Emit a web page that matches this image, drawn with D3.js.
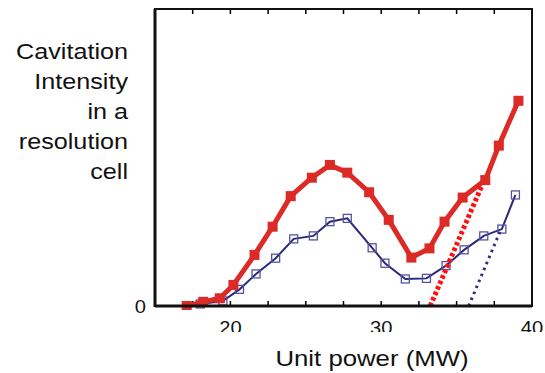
<!DOCTYPE html>
<html>
<head>
<meta charset="utf-8">
<script src="https://cdn.jsdelivr.net/npm/d3@7/dist/d3.min.js"></script>
<style>
  html, body { margin: 0; padding: 0; background: #fff; }
  svg { display: block; font-family: "Liberation Sans", Arial, sans-serif; }
</style>
</head>
<body>
<svg id="chart" width="545" height="373"></svg>
<script>
// Unit power (MW) at each measurement
const powerA = [17.1, 18.2, 19.3, 20.2, 21.6, 22.8, 24.0, 25.4, 26.6, 27.75, 29.2, 30.5, 32.0, 33.2, 34.2, 35.4, 36.9, 37.8, 39.1];
// Cavitation intensity, first series (thick red)
const intensityA = [0, 1.4, 2.6, 7.1, 17.2, 26.7, 37.0, 43.2, 47.5, 44.9, 38.3, 29.0, 16.3, 19.4, 28.4, 36.5, 42.4, 54.0, 69.1];

const powerB = [17.1, 18.0, 19.5, 20.6, 21.7, 23.0, 24.2, 25.5, 26.6, 27.75, 29.4, 30.25, 31.6, 33.0, 34.3, 35.5, 36.8, 38.0, 38.9];
// Cavitation intensity, second series (thin navy, open squares)
const intensityB = [0, 0.7, 1.7, 5.6, 10.8, 16.1, 22.6, 23.6, 28.4, 29.5, 19.6, 14.4, 9.1, 9.3, 13.6, 18.9, 23.6, 25.9, 37.4];

// Dotted trend lines (start and end points)
const trendA = [{ x: 33.25, y: 0 }, { x: 36.65, y: 40.2 }];
const trendB = [{ x: 35.8, y: 0 }, { x: 37.9, y: 25.3 }];

const xTicks = [17.5, 20, 22.5, 25, 27.5, 30, 32.5, 35, 37.5];
const xTickLabels = [20, 30, 40];
const yTickLabels = [0];
const yLabelLines = ["Cavitation", "Intensity", "in a", "resolution", "cell"];
const xLabel = "Unit power (MW)";

const svg = d3.select("#chart");
const pLeft = 155, pRight = 532, pTop = 9, pBottom = 306;
const x = d3.scaleLinear().domain([15, 40]).range([pLeft, pRight]);
const y = d3.scaleLinear().domain([0, 100]).range([pBottom, pTop]);
const sx = 1.12; // horizontal stretch of text

const defs = svg.append("defs");
// clip for the tick labels under the axis
defs.append("clipPath").attr("id", "tickclip")
  .append("rect").attr("x", 0).attr("y", 0).attr("width", 545).attr("height", 332);
defs.append("clipPath").attr("id", "plotclip")
  .append("rect").attr("x", pLeft).attr("y", pTop).attr("width", pRight - pLeft).attr("height", pBottom - pTop + 4);

// ticks along bottom (pointing up) and top (pointing down)
const tickLen = 5;
svg.append("g").selectAll("line").data(xTicks).join("line")
  .attr("x1", d => x(d)).attr("x2", d => x(d))
  .attr("y1", pBottom).attr("y2", pBottom - tickLen)
  .attr("stroke", "#000").attr("stroke-width", 1.5);
svg.append("g").selectAll("line").data(xTicks).join("line")
  .attr("x1", d => x(d)).attr("x2", d => x(d))
  .attr("y1", pTop).attr("y2", pTop + tickLen)
  .attr("stroke", "#000").attr("stroke-width", 1.5);

// data lines
const lineA = d3.line().x((d, i) => x(powerA[i])).y(d => y(d));
const lineB = d3.line().x((d, i) => x(powerB[i])).y(d => y(d));
const trendLine = d3.line().x(d => x(d.x)).y(d => y(d.y));

const g = svg.append("g").attr("clip-path", "url(#plotclip)");

g.append("path").datum(intensityB).attr("d", lineB)
  .attr("fill", "none").attr("stroke", "#2a2878").attr("stroke-width", 2);
g.append("g").selectAll("rect").data(intensityB).join("rect")
  .attr("x", (d, i) => x(powerB[i]) - 4).attr("y", d => y(d) - 4)
  .attr("width", 8).attr("height", 8)
  .attr("fill", "none").attr("stroke", "#5553a0").attr("stroke-width", 1.3);

g.append("path").datum(trendB).attr("d", trendLine)
  .attr("fill", "none").attr("stroke", "#2e2c86").attr("stroke-width", 3)
  .attr("stroke-dasharray", "2.5,4");

g.append("path").datum(intensityA).attr("d", lineA)
  .attr("fill", "none").attr("stroke", "#dc2a26").attr("stroke-width", 5)
  .attr("stroke-linejoin", "round");
g.append("g").selectAll("rect").data(intensityA).join("rect")
  .attr("x", (d, i) => x(powerA[i]) - 5).attr("y", d => y(d) - 5)
  .attr("width", 10).attr("height", 10)
  .attr("fill", "#dc2a26");

g.append("path").datum(trendA).attr("d", trendLine)
  .attr("fill", "none").attr("stroke", "#ff1010").attr("stroke-width", 5)
  .attr("stroke-dasharray", "3.5,2.5");

// frame
svg.append("rect").attr("x", pLeft).attr("y", pTop)
  .attr("width", pRight - pLeft).attr("height", pBottom - pTop)
  .attr("fill", "none").attr("stroke", "#111").attr("stroke-width", 2);
svg.append("line").attr("x1", pLeft).attr("x2", pLeft).attr("y1", pTop).attr("y2", pBottom + 1)
  .attr("stroke", "#111").attr("stroke-width", 3);
svg.append("line").attr("x1", pLeft).attr("x2", pRight).attr("y1", pBottom).attr("y2", pBottom)
  .attr("stroke", "#111").attr("stroke-width", 3);

// x tick labels
svg.append("g").attr("clip-path", "url(#tickclip)")
  .selectAll("text").data(xTickLabels).join("text")
  .attr("transform", d => `translate(${x(d)},334) scale(${sx},1)`)
  .attr("text-anchor", "middle")
  .attr("font-size", 18).attr("fill", "#111")
  .text(d => d);

// y tick label
svg.append("g").selectAll("text").data(yTickLabels).join("text")
  .attr("transform", d => `translate(${pLeft - 9},${y(d) + 6.5}) scale(${sx},1)`)
  .attr("text-anchor", "end")
  .attr("font-size", 18).attr("fill", "#111")
  .text(d => d);

// y axis title
svg.append("g").selectAll("text").data(yLabelLines).join("text")
  .attr("transform", (d, i) => `translate(128,${59 + i * 30}) scale(${sx},1)`)
  .attr("text-anchor", "end")
  .attr("font-size", 22.5).attr("fill", "#111")
  .text(d => d);

// x axis title
svg.append("text")
  .attr("transform", `translate(372,366) scale(${sx},1)`)
  .attr("text-anchor", "middle")
  .attr("font-size", 23).attr("fill", "#111")
  .text(xLabel);
</script>
</body>
</html>
